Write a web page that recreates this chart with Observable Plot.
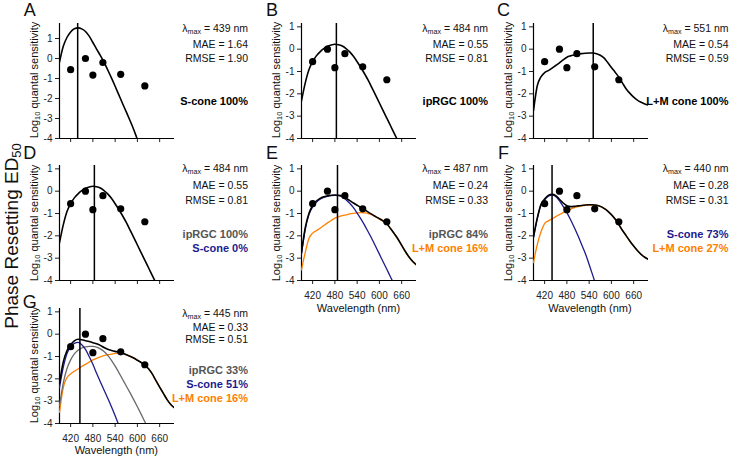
<!DOCTYPE html>
<html>
<head>
<meta charset="utf-8">
<script src="https://cdn.jsdelivr.net/npm/d3@7"></script>
<script src="https://cdn.jsdelivr.net/npm/@observablehq/plot@0.6"></script>
<style>
  html, body { margin: 0; padding: 0; background: #fff; }
  #fig { position: relative; width: 732px; height: 458px; overflow: hidden;
         font-family: "Liberation Sans", Arial, Helvetica, sans-serif; color: #111; }
  .pl { position: absolute; }
  .t { position: absolute; white-space: nowrap; line-height: 1; }
  .t sub { font-size: 68%; vertical-align: -0.3em; line-height: 0; }
</style>
</head>
<body>
<div id="fig"></div>
<script>
// ---------------- data ----------------
const WL = [390,400,410,420,430,440,450,460,470,480,490,500,510,520,530,540,550,560,570,580,590,600,610,620,630,640,650,660,670,680,690,700];

const POINT_WL = [420, 460, 480, 507, 555, 620];
const POINT_LOGSENS = [-0.56, 0.0, -0.83, -0.2, -0.79, -1.37];

const PANELS = ["A","B","C","D","E","F","G"];
const LAMBDA_MAX = [439, 484, 551, 484, 487, 440, 445];
const MAE = ["1.64","0.55","0.54","0.55","0.24","0.28","0.33"];
const RMSE = ["1.90","0.81","0.59","0.81","0.33","0.31","0.51"];
const X_TICKS = [420, 480, 540, 600, 660];
const Y_TICKS = [-4, -3, -2, -1, 0, 1];

// curves (log10 quantal sensitivity at each WL; null = beyond the plotted range)
const A_SCONE  = [-0.18,0.6,1.05,1.33,1.49,1.53,1.48,1.35,1.12,0.8,0.47,0.16,-0.18,-0.57,-0.97,-1.39,-1.82,-2.25,-2.67,-3.1,-3.55,-4.05,-4.55,null,null,null,null,null,null,null,null,null];
const B_IPRGC  = [-2.31,-1.52,-0.92,-0.56,-0.3,-0.12,0.02,0.13,0.19,0.22,0.2,0.14,0.03,-0.12,-0.32,-0.56,-0.82,-1.1,-1.4,-1.73,-2.07,-2.41,-2.75,-3.09,-3.43,-3.77,-4.11,-4.45,null,null,null,null];
const C_LMCONE = [-2.75,-1.65,-1.24,-1.05,-0.96,-0.85,-0.73,-0.61,-0.48,-0.36,-0.3,-0.26,-0.22,-0.2,-0.18,-0.17,-0.17,-0.2,-0.27,-0.39,-0.6,-0.82,-1.03,-1.25,-1.52,-1.78,-1.98,-2.15,-2.28,-2.38,-2.45,-2.5];
const D_IPRGC  = B_IPRGC;
const E_TOTAL  = [-2.75,-1.65,-1.0,-0.64,-0.44,-0.32,-0.25,-0.21,-0.18,-0.17,-0.18,-0.22,-0.31,-0.42,-0.53,-0.63,-0.73,-0.83,-0.94,-1.04,-1.14,-1.23,-1.33,-1.46,-1.67,-1.9,-2.14,-2.42,-2.7,-2.95,-3.15,-3.3];
const E_IPRGC  = [-2.8,-1.72,-1.05,-0.7,-0.5,-0.36,-0.28,-0.23,-0.2,-0.19,-0.2,-0.26,-0.38,-0.54,-0.74,-0.98,-1.24,-1.52,-1.83,-2.14,-2.48,-2.82,-3.16,-3.5,-3.84,-4.18,null,null,null,null,null,null];
const E_LMCONE = [-3.52,-2.75,-2.12,-1.88,-1.77,-1.66,-1.54,-1.42,-1.31,-1.21,-1.15,-1.1,-1.06,-1.02,-0.99,-0.97,-0.96,-0.97,-1.0,-1.06,-1.15,-1.25,-1.35,-1.48,-1.68,-1.91,-2.15,-2.43,-2.71,-2.96,-3.16,-3.31];
const F_TOTAL  = [-2.05,-1.22,-0.6,-0.35,-0.19,-0.14,-0.2,-0.36,-0.53,-0.65,-0.69,-0.68,-0.66,-0.64,-0.62,-0.61,-0.61,-0.63,-0.68,-0.77,-0.89,-1.05,-1.25,-1.5,-1.76,-2.0,-2.24,-2.46,-2.66,-2.83,-2.96,-3.05];
const F_SCONE  = [-2.07,-1.25,-0.63,-0.39,-0.22,-0.17,-0.24,-0.43,-0.68,-0.96,-1.28,-1.63,-2.0,-2.4,-2.8,-3.28,-3.78,-4.3,null,null,null,null,null,null,null,null,null,null,null,null,null,null];
const F_LMCONE = [-3.2,-2.4,-1.83,-1.45,-1.33,-1.24,-1.14,-1.05,-0.96,-0.88,-0.8,-0.74,-0.69,-0.66,-0.63,-0.62,-0.62,-0.63,-0.68,-0.77,-0.89,-1.05,-1.25,-1.5,-1.76,-2.0,-2.24,-2.46,-2.66,-2.83,-2.96,-3.05];
const G_TOTAL  = [-2.2,-1.25,-0.74,-0.47,-0.3,-0.23,-0.25,-0.29,-0.33,-0.38,-0.43,-0.5,-0.6,-0.68,-0.73,-0.77,-0.8,-0.84,-0.92,-0.99,-1.07,-1.17,-1.27,-1.38,-1.55,-1.78,-2.08,-2.37,-2.65,-2.93,-3.15,-3.3];
const G_IPRGC  = [-3.2,-2.2,-1.55,-1.15,-0.88,-0.72,-0.62,-0.57,-0.55,-0.55,-0.58,-0.66,-0.78,-0.95,-1.17,-1.43,-1.72,-2.02,-2.32,-2.62,-2.93,-3.25,-3.58,-3.92,-4.26,null,null,null,null,null,null,null];
const G_SCONE  = [-2.4,-1.5,-0.88,-0.56,-0.41,-0.37,-0.47,-0.68,-1.0,-1.35,-1.75,-2.13,-2.5,-2.87,-3.25,-3.65,-4.08,null,null,null,null,null,null,null,null,null,null,null,null,null,null,null];
const G_LMCONE = [-3.5,-2.4,-1.95,-1.78,-1.66,-1.56,-1.45,-1.35,-1.25,-1.15,-1.08,-1.02,-0.96,-0.92,-0.89,-0.86,-0.85,-0.87,-0.92,-0.99,-1.07,-1.17,-1.27,-1.38,-1.55,-1.78,-2.08,-2.37,-2.65,-2.93,-3.15,-3.3];

const COMPONENT_TEXT = [
  ["S-cone 100%"],
  ["ipRGC 100%"],
  ["L+M cone 100%"],
  ["ipRGC 100%", "S-cone 0%"],
  ["ipRGC 84%", "L+M cone 16%"],
  ["S-cone 73%", "L+M cone 27%"],
  ["ipRGC 33%", "S-cone 51%", "L+M cone 16%"]
];

// ---------------- styling / layout ----------------
const C = { black: "#000", navy: "#1c1c8e", orange: "#ff8000", gray: "#6a6a6a", grayText: "#555" };
const COMPONENT_COLORS = [
  [C.black], [C.black], [C.black],
  [C.grayText, C.navy],
  [C.grayText, C.orange],
  [C.navy, C.orange],
  [C.grayText, C.navy, C.orange]
];
const CURVES = [
  [[A_SCONE, C.black, 1.6]],
  [[B_IPRGC, C.black, 1.6]],
  [[C_LMCONE, C.black, 1.6]],
  [[D_IPRGC, C.black, 1.6]],
  [[E_LMCONE, C.orange, 1.3], [E_IPRGC, C.navy, 1.3], [E_TOTAL, C.black, 1.6]],
  [[F_LMCONE, C.orange, 1.3], [F_SCONE, C.navy, 1.3], [F_TOTAL, C.black, 1.6]],
  [[G_LMCONE, C.orange, 1.3], [G_IPRGC, C.gray, 1.3], [G_SCONE, C.navy, 1.3], [G_TOTAL, C.black, 1.6]]
];
const POS = [[0,0],[1,0],[2,0],[0,1],[1,1],[2,1],[0,2]]; // [col,row]
const FRAME_LEFT = [58.8, 301, 532.5];
const FRAME_TOP = [22.7, 165, 307.7];
const TEXT_RIGHT = [248, 488, 728.5];
const FW = 115, FH = 115;
const ROW_TEXT = [
  { lam: 28, mae: 44, rmse: 57.5, comps: [101] },
  { lam: 168, mae: 184.5, rmse: 199.5, comps: [234, 247.5] },
  { lam: 312.5, mae: 326.5, rmse: 339, comps: [370, 384, 397.5] }
];
const LETTER_Y = [10, 153, 301.5];

const fig = document.getElementById("fig");
const FONT = '"Liberation Sans", Arial, Helvetica, sans-serif';

function addText(html, x, y, o = {}) {
  const d = document.createElement("div");
  d.className = "t";
  d.innerHTML = html;
  d.style.left = x + "px";
  d.style.top = y + "px";
  d.style.fontSize = (o.size || 10.5) + "px";
  if (o.weight) d.style.fontWeight = o.weight;
  if (o.color) d.style.color = o.color;
  const tx = o.anchor === "end" ? "-100%" : o.anchor === "start" ? "0" : "-50%";
  d.style.transform = `translate(${tx}, -50%)` + (o.rotate ? ` rotate(${o.rotate}deg)` : "");
  fig.appendChild(d);
}

const points = POINT_WL.map((w, i) => ({ w, v: POINT_LOGSENS[i] }));

PANELS.forEach((name, i) => {
  const [col, row] = POS[i];
  const yTop = name === "A" ? 1.75 : 1.15;
  const showX = row > 0 && name !== "D";
  const mL = 32, mR = 4, mT = 4, mB = 26;
  const lines = CURVES[i].map(([vals, color, sw]) =>
    Plot.line(WL.map((w, k) => ({ w, v: vals[k] })).filter(d => d.v != null),
      { x: "w", y: "v", stroke: color, strokeWidth: sw, curve: "monotone-x", clip: true }));
  const chart = Plot.plot({
    width: FW + mL + mR, height: FH + mT + mB,
    marginLeft: mL, marginRight: mR, marginTop: mT, marginBottom: mB,
    x: { domain: [390, 700] },
    y: { domain: [-4, yTop] },
    style: { fontFamily: FONT, fontSize: "10px", color: "#222", background: "transparent", overflow: "visible" },
    marks: [
      Plot.axisX({ ticks: X_TICKS, tickSize: 4, tickPadding: 7, label: null,
                   tickFormat: showX ? (d => String(d)) : (() => "") }),
      Plot.axisY({ ticks: Y_TICKS, tickSize: 4, tickPadding: 3, label: null, tickFormat: d => String(d) }),
      Plot.ruleX([390], { stroke: "#000", strokeWidth: 1.2 }),
      Plot.ruleY([-4], { stroke: "#000", strokeWidth: 1.2 }),
      ...lines,
      Plot.ruleX([LAMBDA_MAX[i]], { stroke: "#000", strokeWidth: 1.5 }),
      Plot.dot(points, { x: "w", y: "v", r: 3.6, fill: "#000", stroke: "none" })
    ]
  });
  chart.classList.add("pl");
  chart.style.left = (FRAME_LEFT[col] - mL) + "px";
  chart.style.top = (FRAME_TOP[row] - mT) + "px";
  fig.appendChild(chart);

  const fl = FRAME_LEFT[col], ft = FRAME_TOP[row], rt = TEXT_RIGHT[col], rtx = ROW_TEXT[row];
  addText(name, fl - 29, LETTER_Y[row], { size: 18 });
  addText("Log<sub>10</sub> quantal sensitivity", fl - 25, ft + FH / 2, { size: 11, rotate: -90 });
  if (showX) addText("Wavelength (nm)", fl + FW / 2, ft + FH + 27.5, { size: 11 });
  addText(`λ<sub>max</sub> = ${LAMBDA_MAX[i]} nm`, rt, rtx.lam, { size: 10.5, anchor: "end" });
  addText(`MAE = ${MAE[i]}`, rt, rtx.mae, { size: 10.5, anchor: "end" });
  addText(`RMSE = ${RMSE[i]}`, rt, rtx.rmse, { size: 10.5, anchor: "end" });
  COMPONENT_TEXT[i].forEach((t, k) => {
    const y = rtx.comps[k + (rtx.comps.length - COMPONENT_TEXT[i].length)];
    addText(t, rt, y, { size: 11, weight: "bold", anchor: "end", color: COMPONENT_COLORS[i][k] });
  });
});

addText("Phase Resetting ED<sub>50</sub>", 11, 236, { size: 19, rotate: -90 });
</script>
</body>
</html>
